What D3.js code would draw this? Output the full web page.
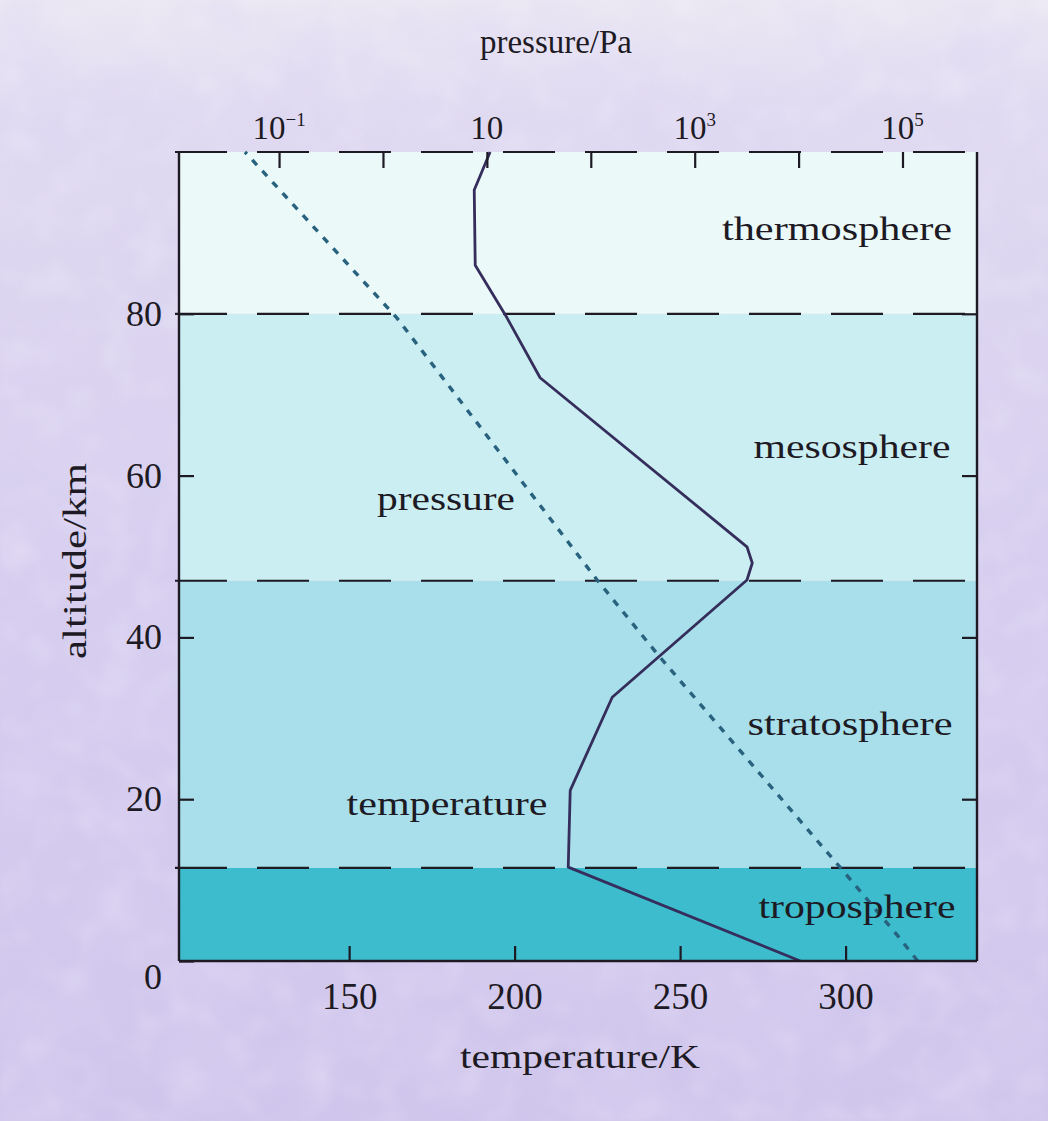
<!DOCTYPE html>
<html>
<head>
<meta charset="utf-8">
<script src="https://cdn.jsdelivr.net/npm/d3@7"></script>
<style>
  html, body { margin: 0; padding: 0; background: #d8d0ee; }
  svg { display: block; }
  text { font-family: "Liberation Serif", "Times New Roman", serif; fill: #1d1a24; }
</style>
</head>
<body>
<svg id="chart" width="1048" height="1121"></svg>
<script>
// ---- data -------------------------------------------------------------
// temperature profile of the standard atmosphere (altitude in km, T in K)
const tempAltitude = [0, 11.6, 21.1, 32.6, 47.1, 49.2, 51.2, 72.1, 79.5, 86.0, 95.3, 100];
const temperature  = [286.3, 216.2, 216.8, 229.5, 270.2, 271.8, 270.2, 207.7, 197.7, 188.1, 187.8, 192.6];

// pressure profile (altitude in km, pressure in Pa)
const pressAltitude = [0, 3.2, 11.6, 37.6, 47.1, 79.5, 100];
const pressure      = [1.4e5, 8.9e4, 2.5e4, 460, 115, 1.36, 0.047];

// atmospheric layers, bottom and top altitude in km
const layerNames  = ["troposphere", "stratosphere", "mesosphere", "thermosphere"];
const layerBottom = [0, 11.5, 47, 80];
const layerTop    = [11.5, 47, 80, 100];

// axis ticks
const altitudeTicks    = [0, 20, 40, 60, 80];
const temperatureTicks = [150, 200, 250, 300];
const pressureDecades  = [-1, 0, 1, 2, 3, 4, 5];
const pressureLabelled = [-1, 1, 3, 5];

// ---- layout & style ---------------------------------------------------
const plot = { left: 179, right: 977, top: 152, bottom: 961 };
const layerFill = {
  troposphere: "#3cbccd",
  stratosphere: "#a8dfea",
  mesosphere: "#cbeef2",
  thermosphere: "#ebf9f9"
};
// label placement: altitude of baseline, centre x, drawn width
const layerLabel = {
  thermosphere: { alt: 89.1, cx: 837, w: 230 },
  mesosphere:   { alt: 62.2, cx: 852, w: 197 },
  stratosphere: { alt: 27.9, cx: 850, w: 205 },
  troposphere:  { alt: 5.3,  cx: 857, w: 197 }
};
const ink = "#1d1a24";

const svg = d3.select("#chart");

// ---- mottled lavender paper ------------------------------------------
const defs = svg.append("defs");
const grad = defs.append("linearGradient").attr("id", "paper")
  .attr("x1", 0).attr("y1", 0).attr("x2", 0).attr("y2", 1);
grad.append("stop").attr("offset", "0%").attr("stop-color", "#ebe8f3");
grad.append("stop").attr("offset", "10%").attr("stop-color", "#e0daf1");
grad.append("stop").attr("offset", "55%").attr("stop-color", "#d6cdef");
grad.append("stop").attr("offset", "100%").attr("stop-color", "#d0c6ec");

const mottle = defs.append("filter").attr("id", "mottle")
  .attr("x", 0).attr("y", 0).attr("width", "100%").attr("height", "100%");
mottle.append("feTurbulence").attr("type", "fractalNoise")
  .attr("baseFrequency", "0.012").attr("numOctaves", 2).attr("seed", 11).attr("result", "n");
mottle.append("feColorMatrix").attr("in", "n").attr("type", "matrix")
  .attr("values", "0 0 0 0 0.72  0 0 0 0 0.66  0 0 0 0 0.90  1.8 0 0 0 -0.75");
mottle.append("feGaussianBlur").attr("stdDeviation", 3);

const speckle = defs.append("filter").attr("id", "speckle")
  .attr("x", 0).attr("y", 0).attr("width", "100%").attr("height", "100%");
speckle.append("feTurbulence").attr("type", "fractalNoise")
  .attr("baseFrequency", "0.03").attr("numOctaves", 2).attr("seed", 4).attr("result", "n");
speckle.append("feColorMatrix").attr("in", "n").attr("type", "matrix")
  .attr("values", "0 0 0 0 0.95  0 0 0 0 0.94  0 0 0 0 0.99  0 1.6 0 0 -0.75");
speckle.append("feGaussianBlur").attr("stdDeviation", 2.5);

svg.append("rect").attr("width", 1048).attr("height", 1121).attr("fill", "url(#paper)");
svg.append("rect").attr("width", 1048).attr("height", 1121)
  .attr("filter", "url(#mottle)").attr("opacity", 0.5);
svg.append("rect").attr("width", 1048).attr("height", 1121)
  .attr("filter", "url(#speckle)").attr("opacity", 0.3);

// ---- scales -----------------------------------------------------------
const y  = d3.scaleLinear().domain([0, 100]).range([plot.bottom, plot.top]);
const xT = d3.scaleLinear().domain([98.6, 339.7]).range([plot.left, plot.right]);
const xP = d3.scaleLog().domain([Math.pow(10, -1.963), Math.pow(10, 5.717)]).range([plot.left, plot.right]);

// ---- layer bands ------------------------------------------------------
const layers = layerNames.map((name, i) => ({ name, lo: layerBottom[i], hi: layerTop[i] }));

svg.append("g").selectAll("rect").data(layers).join("rect")
  .attr("x", plot.left).attr("width", plot.right - plot.left)
  .attr("y", d => y(d.hi)).attr("height", d => y(d.lo) - y(d.hi))
  .attr("fill", d => layerFill[d.name]);

// dashed layer boundaries (and the dashed top edge)
const boundaries = layerBottom.slice(1).concat([100]);
svg.append("g").selectAll("line").data(boundaries).join("line")
  .attr("x1", plot.left - 4).attr("x2", plot.right + 3)
  .attr("y1", d => y(d)).attr("y2", d => y(d))
  .attr("stroke", ink).attr("stroke-width", 2.2)
  .attr("stroke-dasharray", "52,30");

// ---- curves -----------------------------------------------------------
const tempLine = d3.line().x(d => xT(d[1])).y(d => y(d[0])).curve(d3.curveLinear);
svg.append("path")
  .datum(tempAltitude.map((a, i) => [a, temperature[i]]))
  .attr("d", tempLine)
  .attr("fill", "none").attr("stroke", "#352e5c").attr("stroke-width", 2.8)
  .attr("stroke-linejoin", "round");

const pressLine = d3.line().x(d => xP(d[1])).y(d => y(d[0]));
svg.append("path")
  .datum(pressAltitude.map((a, i) => [a, pressure[i]]))
  .attr("d", pressLine)
  .attr("fill", "none").attr("stroke", "#28627e").attr("stroke-width", 3.4)
  .attr("stroke-dasharray", "7,8");

// ---- frame ------------------------------------------------------------
const frame = svg.append("g").attr("stroke", ink).attr("stroke-width", 2.4);
frame.append("line").attr("x1", plot.left).attr("x2", plot.left).attr("y1", plot.top).attr("y2", plot.bottom);
frame.append("line").attr("x1", plot.right).attr("x2", plot.right).attr("y1", plot.top).attr("y2", plot.bottom);
frame.append("line").attr("x1", plot.left).attr("x2", plot.right).attr("y1", plot.bottom).attr("y2", plot.bottom);

// ---- axes -------------------------------------------------------------
function styleAxis(g) {
  g.select(".domain").remove();
  g.selectAll(".tick line").attr("stroke", ink).attr("stroke-width", 2.2);
  g.selectAll(".tick text").attr("fill", ink).attr("font-family", "Liberation Serif, serif");
}

const leftAxis = svg.append("g").attr("transform", `translate(${plot.left},0)`)
  .call(d3.axisLeft(y).tickValues(altitudeTicks).tickSizeInner(-15).tickSizeOuter(0).tickPadding(17))
  .call(styleAxis);
leftAxis.selectAll(".tick text").attr("font-size", 36);
leftAxis.selectAll(".tick").filter(d => d === 0).select("text").attr("dy", "0.75em");

svg.append("g").attr("transform", `translate(${plot.right},0)`)
  .call(d3.axisRight(y).tickValues(altitudeTicks.slice(1)).tickSizeInner(-15).tickSizeOuter(0).tickFormat(""))
  .call(styleAxis);

svg.append("g").attr("transform", `translate(0,${plot.bottom})`)
  .call(d3.axisBottom(xT).tickValues(temperatureTicks).tickSizeInner(-15).tickSizeOuter(0).tickPadding(22))
  .call(styleAxis)
  .selectAll(".tick text").attr("font-size", 37);

svg.append("g").attr("transform", `translate(0,${plot.top})`)
  .call(d3.axisTop(xP).tickValues(pressureDecades.map(e => Math.pow(10, e)))
    .tickSizeInner(-16).tickSizeOuter(0).tickFormat(""))
  .call(styleAxis);

// power-of-ten labels on the pressure axis
const powLabels = svg.append("g").selectAll("text").data(pressureLabelled).join("text")
  .attr("x", e => xP(Math.pow(10, e)))
  .attr("y", 139)
  .attr("text-anchor", "middle")
  .attr("font-size", 33);
powLabels.append("tspan").text("10");
powLabels.filter(e => e !== 1).append("tspan")
  .attr("dy", -13).attr("font-size", 19)
  .text(e => e < 0 ? "\u2212" + Math.abs(e) : String(e));

// ---- axis titles --------------------------------------------------------
svg.append("text").attr("x", 556).attr("y", 53).attr("text-anchor", "middle")
  .attr("font-size", 33).attr("textLength", 152).attr("lengthAdjust", "spacingAndGlyphs")
  .text("pressure/Pa");

svg.append("text").attr("x", 580).attr("y", 1068).attr("text-anchor", "middle")
  .attr("font-size", 34).attr("textLength", 240).attr("lengthAdjust", "spacingAndGlyphs")
  .text("temperature/K");

svg.append("text").attr("transform", "translate(86,561) rotate(-90)")
  .attr("text-anchor", "middle")
  .attr("font-size", 33).attr("textLength", 196).attr("lengthAdjust", "spacingAndGlyphs")
  .text("altitude/km");

// ---- layer and curve labels -------------------------------------------
svg.append("g").selectAll("text").data(layers).join("text")
  .attr("x", d => layerLabel[d.name].cx)
  .attr("y", d => y(layerLabel[d.name].alt))
  .attr("text-anchor", "middle")
  .attr("font-size", 33)
  .attr("textLength", d => layerLabel[d.name].w)
  .attr("lengthAdjust", "spacingAndGlyphs")
  .text(d => d.name);

svg.append("text").attr("x", 446).attr("y", 510).attr("text-anchor", "middle")
  .attr("font-size", 33).attr("textLength", 138).attr("lengthAdjust", "spacingAndGlyphs")
  .text("pressure");

svg.append("text").attr("x", 447).attr("y", 815).attr("text-anchor", "middle")
  .attr("font-size", 33).attr("textLength", 201).attr("lengthAdjust", "spacingAndGlyphs")
  .text("temperature");
</script>
</body>
</html>
